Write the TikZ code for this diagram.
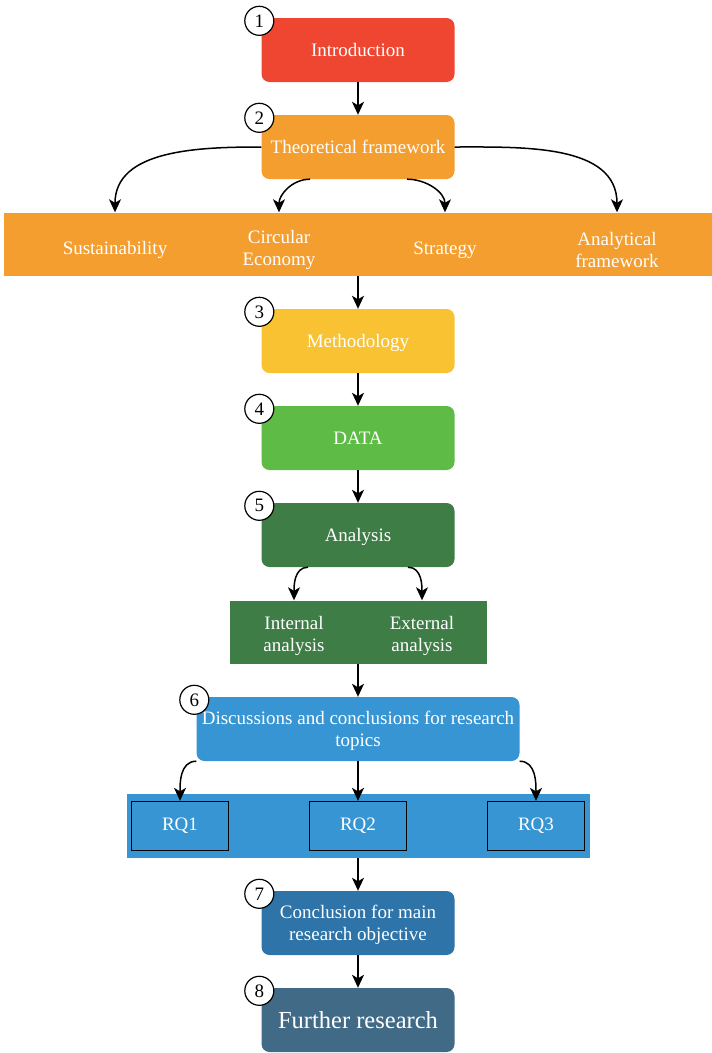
\documentclass[tikz,border=0pt]{standalone}
\usepackage{fontspec}
\setmainfont{Liberation Serif}
\usetikzlibrary{positioning,arrows.meta}
\definecolor{cIntro}{HTML}{EF4631}
\definecolor{cTheory}{HTML}{F59E30}
\definecolor{cMeth}{HTML}{F8C232}
\definecolor{cData}{HTML}{5DBB46}
\definecolor{cAnalysis}{HTML}{3E7D45}
\definecolor{cDisc}{HTML}{3795D3}
\definecolor{cConcl}{HTML}{2E74A8}
\definecolor{cFurther}{HTML}{406A86}
\tikzstyle{stage} = [rectangle, rounded corners=8pt, minimum width=193pt, minimum height=64pt, text=white, align=center, text depth=-12pt, font=\fontsize{19}{22.5}\selectfont]
\tikzstyle{band} = [rectangle, minimum height=63pt]
\tikzstyle{tag} = [text=white, align=center, font=\fontsize{19}{22}\selectfont]
\tikzstyle{rq} = [draw, line width=1.3pt, fill=cDisc, minimum width=97pt, minimum height=49pt, text=white, font=\fontsize{19}{22}\selectfont]
\tikzset{num/.style={
    draw, circle, fill=white, line width=1.2pt, minimum size=29pt, inner sep=0pt,
    xshift=-2pt, yshift=-3pt, font=\fontsize{19}{20}\selectfont
    }
}
\tikzstyle{line} = [draw, line width=1.5pt, -{Stealth[length=13pt, width=12pt, inset=3.5pt]}]

\begin{document}
\begin{tikzpicture}[x=1pt, y=1pt, node distance=97pt]
        \useasboundingbox (0,0) rectangle (712,-1053);

        \node [stage, fill=cIntro] (intro) at (358,-50) {Introduction};
        \node [stage, fill=cTheory, below of=intro] (theory) {Theoretical framework};
        \node [band, fill=cTheory, minimum width=709pt, below of=theory] (tband) {};
        \node [tag, left of=tband, node distance=243pt, yshift=-6pt] (sust) {Sustainability};
        \node [tag, left of=tband, node distance=79pt, yshift=-6pt] (circ) {Circular\\Economy};
        \node [tag, right of=tband, node distance=87pt, yshift=-6pt] (strat) {Strategy};
        \node [tag, right of=tband, node distance=259pt, yshift=-6pt] (anal) {Analytical\\framework};

        \node [stage, fill=cMeth, below of=tband] (meth) {Methodology};
        \node [stage, fill=cData, below of=meth] (data) {DATA};
        \node [stage, fill=cAnalysis, below of=data] (analysis) {Analysis};
        \node [band, fill=cAnalysis, minimum width=257pt, below of=analysis] (aband) {};
        \node [tag, left of=aband, node distance=64pt, yshift=-4pt] (intl) {Internal\\analysis};
        \node [tag, right of=aband, node distance=64pt, yshift=-4pt] (extl) {External\\analysis};

        \node [stage, fill=cDisc, minimum width=323pt, below of=aband] (disc) {Discussions and conclusions for research\\topics};
        \node [band, fill=cDisc, minimum width=463pt, minimum height=64pt, below of=disc] (rqband) {};
        \node [rq, left of=rqband, node distance=178pt] (rq1) {RQ1};
        \node [rq] (rq2) at (rqband) {RQ2};
        \node [rq, right of=rqband, node distance=178pt] (rq3) {RQ3};

        \node [stage, fill=cConcl, below of=rqband] (concl) {Conclusion for main\\research objective};
        \node [stage, fill=cFurther, below of=concl, font=\fontsize{24.5}{28}\selectfont] (further) {Further research};

        \node [num] (n1) at (intro.north west) {1};
        \node [num] (n2) at (theory.north west) {2};
        \node [num] (n3) at (meth.north west) {3};
        \node [num] (n4) at (data.north west) {4};
        \node [num] (n5) at (analysis.north west) {5};
        \node [num] (n6) at (disc.north west) {6};
        \node [num] (n7) at (concl.north west) {7};
        \node [num] (n8) at (further.north west) {8};

        \draw [line] (intro) -- (theory);
        \draw [line] (theory.west) to[out=180, in=90] (sust |- tband.north);
        \draw [line] ([xshift=-48pt]theory.south) to[out=180, in=90] (circ |- tband.north);
        \draw [line] ([xshift=49pt]theory.south) to[out=0, in=90] (strat |- tband.north);
        \draw [line] (theory.east) to[out=0, in=90] (anal |- tband.north);
        \draw [line] (tband) -- (meth);
        \draw [line] (meth) -- (data);
        \draw [line] (data) -- (analysis);
        \draw [line] ([xshift=-50pt]analysis.south) to[out=180, in=90] (intl |- aband.north);
        \draw [line] ([xshift=50pt]analysis.south) to[out=0, in=90] (extl |- aband.north);
        \draw [line] (aband) -- (disc);
        \draw [line] (disc.south west) to[out=180, in=90] (rq1.north);
        \draw [line] (disc) -- (rq2);
        \draw [line] (disc.south east) to[out=0, in=90] (rq3.north);
        \draw [line] (rqband) -- (concl);
        \draw [line] (concl) -- (further);
    \end{tikzpicture}
\end{document}
